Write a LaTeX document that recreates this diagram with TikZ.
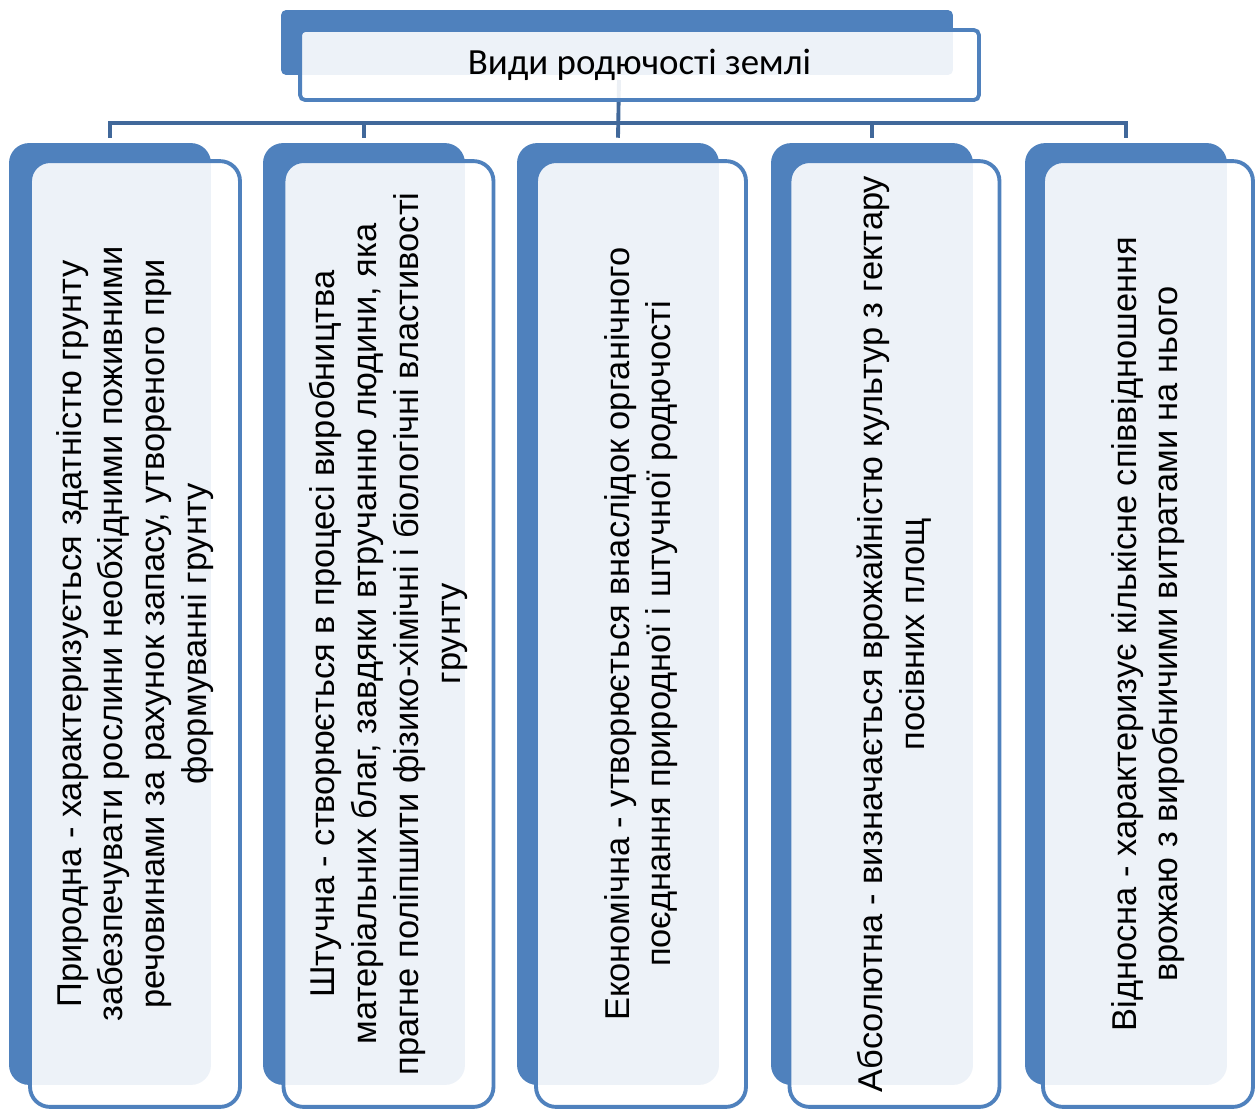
\documentclass[tikz,border=0pt]{standalone}
\usepackage{fontspec}
\setmainfont{Liberation Sans}
\newfontfamily\titlefont{Carlito}
\usetikzlibrary{calc}
\definecolor{boxblue}{RGB}{79,129,189}
\definecolor{lineblue}{RGB}{65,104,154}

\begin{document}
\begin{tikzpicture}[x=0.02cm,y=-0.02cm,
  back/.style={fill=boxblue,rounded corners=0.4cm,minimum width=4.04cm,minimum height=18.84cm,inner sep=0pt},
  front/.style={draw=boxblue,line width=2.2pt,fill=white,fill opacity=0.9,text opacity=1,rounded corners=0.4cm,rotate=90,minimum width=18.92cm,minimum height=4.2cm,inner sep=0pt,align=center,font=\fontsize{19.6}{23.8}\selectfont},
  conn/.style={draw=lineblue,line width=2.2pt}]

	\useasboundingbox (0,0) rectangle (1255,1109);

	% title
	\node (t0) [fill=boxblue,rounded corners=0.1cm,minimum width=13.44cm,minimum height=1.3cm,inner sep=0pt] at (617,42.5) {};

	% columns, back
	\node (b1) [back] at (110,614) {};
	\node (b2) [back] at (364,614) {};
	\node (b3) [back] at (618,614) {};
	\node (b4) [back] at (872,614) {};
	\node (b5) [back] at (1126,614) {};

	\coordinate (hub) at (619,123);
	\draw[conn] ($(b1.north)+(0,-5)$) |- (hub) -| ($(b5.north)+(0,-5)$);
	\draw[conn] ($(b2.north)+(0,-5)$) -- (b2.north |- hub);
	\draw[conn] ($(b4.north)+(0,-5)$) -- (b4.north |- hub);
	\draw[conn] (619,80) -- ($(b3.north)+(0,-5)$);

	\node (f0) [draw=boxblue,line width=2.2pt,fill=white,fill opacity=0.9,text opacity=1,rounded corners=0.1cm,minimum width=13.58cm,minimum height=1.4cm,inner sep=0pt,font=\titlefont\fontsize{21}{25}\selectfont] at (639.5,65) {Види родючості землі};

	\node (f1) [front] at (135,634) {Природна - характеризується здатністю грунту\\забезпечувати рослини необхідними поживними\\речовинами за рахунок запасу, утвореного при\\формуванні грунту};
	\node (f2) [front] at (388.5,634) {Штучна - створюється в процесі виробництва\\матеріальних благ, завдяки втручанню людини, яка\\прагне поліпшити фізико-хімічні і біологічні властивості\\грунту};
	\node (f3) [front] at (641,634) {Економічна - утворюється внаслідок органічного\\поєднання природної і штучної родючості};
	\node (f4) [front] at (894.5,634) {Абсолютна - визначається врожайністю культур з гектару\\посівних площ};
	\node (f5) [front] at (1148,634) {Відносна - характеризує кількісне співвідношення\\врожаю з виробничими витратами на нього};

\end{tikzpicture}
\end{document}
